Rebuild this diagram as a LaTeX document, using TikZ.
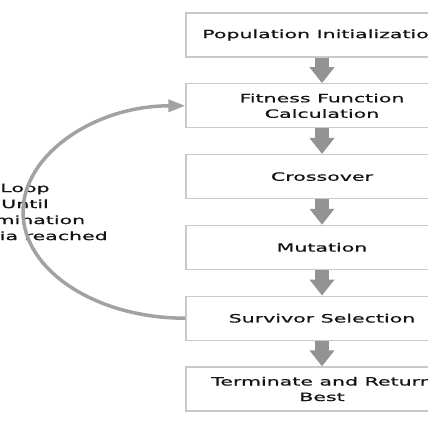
\documentclass[tikz,border=0pt]{standalone}
\usepackage{fontspec}
\setmainfont[FakeStretch=1.8,FakeBold=0.9]{DejaVu Sans}
\usetikzlibrary{positioning,arrows.meta}
\definecolor{boxline}{HTML}{C9C9C9}
\definecolor{flowgray}{HTML}{939393}
\definecolor{loopgray}{HTML}{A2A2A2}
\definecolor{inktext}{HTML}{141414}
\tikzset{
  stagebox/.style={draw=boxline,line width=1.3pt,minimum width=272pt,minimum height=44pt,
    align=center,text=inktext,font=\fontsize{11.4}{15.5}\selectfont},
  flowarrow/.style={flowgray,line width=14pt,-{Triangle[length=16pt,width=24pt]}},
  looparrow/.style={loopgray,line width=3.5pt,-{Triangle[length=17pt,width=12pt]}}
}
\begin{document}
\begin{tikzpicture}[x=1pt,y=-1pt,node distance=25.5pt]
  \useasboundingbox (0,0) rectangle (428,428);
  \clip (0,0) rectangle (428,428);
  \node[stagebox] (init) at (322,35) {Population Initialization};
  \node[stagebox,below=of init] (fit) {Fitness Function\\Calculation};
  \node[stagebox,below=of fit] (cross) {Crossover};
  \node[stagebox,below=of cross] (mut) {Mutation};
  \node[stagebox,below=of mut] (surv) {Survivor Selection};
  \node[stagebox,below=of surv] (term) {Terminate and Return\\Best};
  \draw[flowarrow] (init.south) -- (fit.north);
  \draw[flowarrow] (fit.south) -- (cross.north);
  \draw[flowarrow] (cross.south) -- (mut.north);
  \draw[flowarrow] (mut.south) -- (surv.north);
  \draw[flowarrow] (surv.south) -- (term.north);
  \node[align=center,text=inktext,font=\fontsize{11.4}{16}\selectfont] (looplabel) at (25,212)
    {Loop\\Until\\Termination\\Criteria reached};
  \coordinate (loopleft) at (23,212);
  \draw[looparrow] (surv.west) .. controls +(-90,0) and +(0,58) .. (loopleft)
    .. controls +(0,-58) and +(-90,0) .. (fit.west);
\end{tikzpicture}
\end{document}
